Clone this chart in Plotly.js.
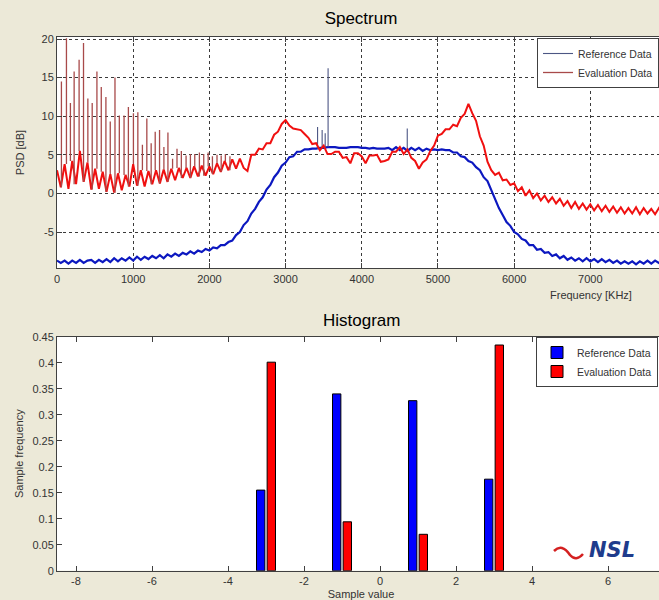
<!DOCTYPE html>
<html>
<head>
<meta charset="utf-8">
<script src="https://cdn.plot.ly/plotly-3.0.1.min.js"></script>
<style>
  html, body { margin: 0; padding: 0; overflow: hidden; background: #ECE9D8; }
  #chart { width: 680px; height: 600px; }
</style>
</head>
<body>
<div id="chart"></div>
<script>
// ---------- Spectrum data (PSD in dB, sampled every 50 KHz from 0 KHz) ----------
const freqStart = 0;
const freqStep = 50;

const refPSD = [
  -8.7,-9.0,-8.7,-9.1,-8.7,-9.0,-8.6,-9.0,-8.7,-8.6,
  -9.0,-8.6,-8.9,-8.5,-8.9,-8.4,-8.8,-8.4,-8.7,-8.3,
  -8.7,-8.2,-8.6,-8.2,-8.5,-8.1,-8.4,-8.0,-8.4,-7.9,
  -8.2,-7.8,-8.1,-7.7,-7.9,-7.5,-7.8,-7.4,-7.6,-7.2,
  -7.4,-7.0,-7.1,-6.7,-6.7,-6.3,-6.1,-5.4,-5.0,-4.1,
  -3.6,-2.6,-2.0,-1.1,-0.5,0.5,1.1,2.1,2.7,3.6,
  4.0,4.7,4.8,5.4,5.4,5.7,5.7,5.8,5.8,5.9,
  5.9,6.0,6.0,6.0,5.9,5.9,5.9,6.0,6.0,6.0,
  5.9,5.9,5.8,5.9,5.8,5.8,5.8,5.9,5.6,6.0,
  5.6,5.9,5.5,5.9,5.6,5.9,5.5,5.8,5.6,5.7,
  5.6,5.7,5.6,5.6,5.3,5.3,4.8,4.7,4.2,4.0,
  3.4,3.0,2.1,1.6,0.4,-0.6,-1.9,-2.8,-3.7,-4.2,
  -5.0,-5.3,-5.9,-6.1,-6.7,-6.7,-7.3,-7.2,-7.7,-7.6,
  -8.1,-7.9,-8.4,-8.1,-8.6,-8.3,-8.7,-8.4,-8.8,-8.4,
  -8.8,-8.5,-8.9,-8.5,-8.9,-8.6,-9.0,-8.7,-9.1,-8.8,
  -9.1,-8.8,-9.2,-8.8,-9.1,-8.7,-9.1,-8.7,-9.0,-8.7
];

const evalPSD = [
  3.0,0.8,3.8,0.6,4.2,1.2,5.5,1.5,4.0,0.5,
  3.2,0.6,2.8,0.2,2.5,0.1,2.6,0.4,2.4,0.9,
  3.8,1.0,3.0,0.9,2.9,1.2,3.0,1.3,3.1,1.5,
  3.2,1.7,3.3,2.0,3.3,2.0,3.5,2.2,3.6,2.3,
  3.5,2.5,3.9,2.8,4.2,3.0,4.4,3.2,4.5,3.3,
  2.9,5.0,5.0,5.8,5.7,6.5,6.5,7.6,8.0,9.0,
  9.5,8.8,8.4,8.3,8.2,7.7,7.2,6.4,6.5,5.6,
  6.2,5.1,5.1,5.4,5.4,4.6,4.7,3.9,5.2,5.2,
  4.8,3.9,4.9,4.9,5.0,4.1,4.2,4.4,5.4,5.4,
  6.0,5.1,5.7,4.6,4.2,3.2,4.0,4.4,5.5,6.2,
  7.5,7.7,8.3,8.3,8.9,8.7,9.8,10.3,11.6,10.4,
  9.4,7.4,6.2,4.1,3.0,2.4,2.7,1.7,1.8,1.1,
  1.3,0.3,0.8,-0.3,0.4,-0.6,0.0,-0.9,-0.3,-1.1,
  -0.5,-1.3,-0.7,-1.6,-1.0,-1.9,-1.1,-2.0,-1.3,-2.1,
  -1.4,-2.2,-1.5,-2.3,-1.6,-2.4,-1.7,-2.5,-1.8,-2.6,
  -1.9,-2.6,-1.8,-2.7,-1.9,-2.6,-2.0,-2.7,-1.9,-2.6
];

// narrow tonal spikes (frequency in KHz, peak in dB)
const evalSpikeFreq = [58,124,176,225,290,348,405,462,524,581,642,699,761,818,880,937,1003,1061,1121,1179,1236,1289,1346,1403,1456,1517,1575,1632,1694,1751,1808,1869,1926,1984,2040,2100,2155,2210,2270];
const evalSpikePeak = [14.5,20.1,11.7,15.8,17.3,19.5,12.3,11.7,15.8,13.8,12.5,9.3,15.0,10.1,10.1,11.2,10.4,10.5,6.3,9.7,6.5,8.0,8.2,6.0,7.9,4.5,5.8,5.5,4.9,5.1,5.1,5.3,5.1,5.3,4.8,5.0,4.9,5.1,4.8];
const refSpikeFreq = [3420,3480,3520,3558,4597];
const refSpikePeak = [8.6,8.2,7.8,16.2,8.4];

const freqTickVals = [0,1000,2000,3000,4000,5000,6000,7000];
const freqTickText = ['0','1000','2000','3000','4000','5000','6000','7000'];
const psdTickVals = [-5,0,5,10,15,20];
const psdTickText = ['-5','0','5','10','15','20'];

// ---------- Histogram data ----------
const binCenters = [-3,-1,1,3];
const refHist = [0.155,0.340,0.327,0.176];
const evalHist = [0.401,0.094,0.070,0.434];
const sampleTickVals = [-8,-6,-4,-2,0,2,4,6];
const sampleTickText = ['-8','-6','-4','-2','0','2','4','6'];
const freqHistTickVals = [0,0.05,0.1,0.15,0.2,0.25,0.3,0.35,0.4,0.45];
const freqHistTickText = ['0','0.05','0.1','0.15','0.2','0.25','0.3','0.35','0.4','0.45'];

// ---------- build ----------
function spikeXY(freqs, peaks, base) {
  const x = [], y = [];
  for (let i = 0; i < freqs.length; i++) {
    const b = base[Math.min(base.length - 1, Math.round((freqs[i] - freqStart) / freqStep))];
    x.push(freqs[i], freqs[i], null);
    y.push(b, peaks[i], null);
  }
  return {x, y};
}
const evalSp = spikeXY(evalSpikeFreq, evalSpikePeak, evalPSD);
const refSp = spikeXY(refSpikeFreq, refSpikePeak, refPSD);

const FONT = "'Liberation Sans', Arial, sans-serif";

const traces = [
  {type:'scatter', mode:'lines', x0:freqStart, dx:freqStep, y:refPSD, xaxis:'x', yaxis:'y',
   line:{color:'#0c18c0', width:2.2}, showlegend:false, hoverinfo:'skip'},
  {type:'scatter', mode:'lines', x:refSp.x, y:refSp.y, xaxis:'x', yaxis:'y', connectgaps:false,
   line:{color:'#4c5684', width:1.1}, name:'Reference Data', legend:'legend'},
  {type:'scatter', mode:'lines', x0:freqStart, dx:freqStep, y:evalPSD, xaxis:'x', yaxis:'y',
   line:{color:'#f01010', width:2.0}, showlegend:false, hoverinfo:'skip'},
  {type:'scatter', mode:'lines', x:evalSp.x, y:evalSp.y, xaxis:'x', yaxis:'y', connectgaps:false,
   line:{color:'#a84a4a', width:1.3}, name:'Evaluation Data', legend:'legend'},
  {type:'bar', x:binCenters, y:refHist, xaxis:'x2', yaxis:'y2', width:0.22, offset:-0.25,
   marker:{color:'#0000ff', line:{color:'#000', width:1}}, name:'Reference Data', legend:'legend2'},
  {type:'bar', x:binCenters, y:evalHist, xaxis:'x2', yaxis:'y2', width:0.22, offset:0.03,
   marker:{color:'#ff0000', line:{color:'#000', width:1}}, name:'Evaluation Data', legend:'legend2'}
];

const L = 57, R = 15, W = 680, H = 600;
const px2x = p => (p - L) / (W - L - R);
const px2y = p => 1 - p / H;

const axisCommon = {
  showline:true, linecolor:'#404040', linewidth:1, mirror:'ticks',
  ticks:'inside', ticklen:5, tickcolor:'#404040', zeroline:false,
  tickfont:{family:FONT, size:11, color:'#333'}
};

const layout = {
  width:W, height:H,
  paper_bgcolor:'#ECE9D8', plot_bgcolor:'#ffffff',
  margin:{l:L, r:R, t:0, b:0},
  barmode:'overlay',
  font:{family:FONT, color:'#333'},
  title:{text:'Spectrum', font:{family:FONT, size:17, color:'#000'},
         xref:'paper', x:0.5, xanchor:'center', yref:'container', y:px2y(18), yanchor:'middle'},
  xaxis:Object.assign({}, axisCommon, {
    domain:[0,1], anchor:'y', range:[0,7980], tickvals:freqTickVals, ticktext:freqTickText,
    showgrid:true, gridcolor:'#3a3a3a', griddash:'dot', gridwidth:1
  }),
  yaxis:Object.assign({}, axisCommon, {
    domain:[px2y(268.3), px2y(36.7)], anchor:'x', range:[-9.7,20.3],
    tickvals:psdTickVals, ticktext:psdTickText,
    showgrid:true, gridcolor:'#3a3a3a', griddash:'dot', gridwidth:1,
    title:{text:'PSD [dB]', font:{family:FONT, size:11, color:'#333'}, standoff:14}
  }),
  xaxis2:Object.assign({}, axisCommon, {
    domain:[0,1], anchor:'y2', range:[-8.5,7.5], tickvals:sampleTickVals, ticktext:sampleTickText,
    showgrid:false,
    title:{text:'Sample value', font:{family:FONT, size:11, color:'#333'}, standoff:4}
  }),
  yaxis2:Object.assign({}, axisCommon, {
    domain:[px2y(570.7), px2y(336.7)], anchor:'x2', range:[0,0.45],
    tickvals:freqHistTickVals, ticktext:freqHistTickText, showgrid:false,
    title:{text:'Sample frequency', font:{family:FONT, size:11, color:'#333'}, standoff:6}
  }),
  legend:{x:px2x(537), y:px2y(38), xanchor:'left', yanchor:'top',
          bgcolor:'#ffffff', bordercolor:'#404040', borderwidth:1,
          font:{family:FONT, size:10.5, color:'#333'}, tracegroupgap:0, itemwidth:30},
  legend2:{x:px2x(536), y:px2y(337), xanchor:'left', yanchor:'top',
          bgcolor:'#ffffff', bordercolor:'#404040', borderwidth:1,
          font:{family:FONT, size:10.5, color:'#333'}, tracegroupgap:0, itemwidth:30},
  annotations:[
    {text:'Histogram', xref:'paper', yref:'paper', x:0.5, y:px2y(320), xanchor:'center', yanchor:'middle',
     showarrow:false, font:{family:FONT, size:17, color:'#000'}},
    {text:'Frequency [KHz]', xref:'paper', yref:'paper', x:px2x(591), y:px2y(295), xanchor:'center', yanchor:'middle',
     showarrow:false, font:{family:FONT, size:11, color:'#333'}},
    {text:'<b><i>NSL</i></b>', xref:'paper', yref:'paper', x:px2x(612), y:px2y(550), xanchor:'center', yanchor:'middle',
     showarrow:false, font:{family:"'DejaVu Sans', sans-serif", size:21, color:'#1f3c8c'}}
  ],
  shapes:[
    {type:'path', xref:'paper', yref:'paper',
     path:'M '+px2x(554)+' '+px2y(551)+' Q '+px2x(562)+' '+px2y(543)+' '+px2x(570)+' '+px2y(555)+' Q '+px2x(576)+' '+px2y(562)+' '+px2x(583)+' '+px2y(554),
     line:{color:'#d42020', width:2.5}}
  ]
};

Plotly.newPlot('chart', traces, layout, {staticPlot:true, displayModeBar:false});
</script>
</body>
</html>
